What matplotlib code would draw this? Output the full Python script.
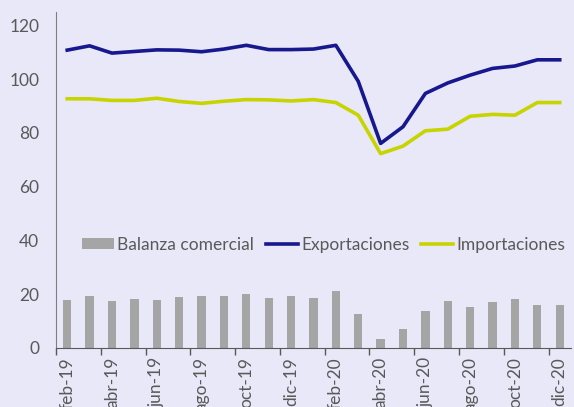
import matplotlib.pyplot as plt
import numpy as np

plt.rcParams['font.family'] = ['Lato', 'DejaVu Sans']

meses = ["feb-19", "mar-19", "abr-19", "may-19", "jun-19", "jul-19", "ago-19", "sep-19",
         "oct-19", "nov-19", "dic-19", "ene-20", "feb-20", "mar-20", "abr-20", "may-20",
         "jun-20", "jul-20", "ago-20", "sep-20", "oct-20", "nov-20", "dic-20"]
balanza = [18.0, 19.5, 17.5, 18.2, 18.0, 19.1, 19.3, 19.5, 20.2, 18.7, 19.3, 18.5,
           21.1, 12.6, 3.3, 7.0, 13.9, 17.4, 15.2, 17.1, 18.1, 16.0, 16.0]
exportaciones = [110.8, 112.4, 109.7, 110.3, 110.9, 110.8, 110.2, 111.2, 112.6, 111.0,
                 111.0, 111.2, 112.6, 99.2, 76.1, 82.3, 94.7, 98.6, 101.5, 104.0, 104.9,
                 107.2, 107.2]
importaciones = [92.7, 92.7, 92.1, 92.1, 92.9, 91.7, 91.0, 91.8, 92.4, 92.3, 91.9, 92.4,
                 91.3, 86.6, 72.3, 75.1, 80.8, 81.4, 86.2, 86.9, 86.6, 91.3, 91.3]

bg = "#E8E8F8"
gris = "#595959"

fig = plt.figure(figsize=(5.74, 4.07), dpi=100, facecolor=bg)
ax = fig.add_axes([0.0976, 0.145, 0.897, 0.8256], facecolor=bg)

x = np.arange(len(meses))
barras = ax.bar(x, balanza, width=0.37, color="#A5A5A5", label="Balanza comercial", zorder=2)
l_exp, = ax.plot(x, exportaciones, color="#17188E", lw=2.6, label="Exportaciones", zorder=3)
l_imp, = ax.plot(x, importaciones, color="#C8D400", lw=2.6, label="Importaciones", zorder=3)

ax.set_xlim(-0.5, len(meses) - 0.5)
ax.set_ylim(0, 125)
ax.set_yticks(range(0, 121, 20))
ax.tick_params(axis='y', length=0, pad=12, labelsize=12.5, labelcolor=gris)

# etiquetas en el centro de cada categoría, marcas entre categorías
ax.set_xticks(x[::2])
ax.set_xticklabels(meses[::2], rotation=90, va='top', ha='center')
ax.tick_params(axis='x', which='major', length=0, pad=6.5, labelsize=12.5, labelcolor=gris)
ax.set_xticks(np.arange(-0.5, len(meses) - 1, 2), minor=True)
ax.tick_params(axis='x', which='minor', length=5, width=1, color="#595959", direction='out')

for s in ["top", "right"]:
    ax.spines[s].set_visible(False)
ax.spines["left"].set_color("#7F7F7F")
ax.spines["bottom"].set_color("#595959")

ax.legend([barras, l_exp, l_imp], ["Balanza comercial", "Exportaciones", "Importaciones"],
          loc='center left', bbox_to_anchor=(0.05, 0.307), ncol=3, frameon=False,
          fontsize=12.5, labelcolor=gris, handlelength=1.85, handleheight=0.55,
          handletextpad=0.2, columnspacing=0.65, borderaxespad=0, borderpad=0)

fig.savefig("out.png", dpi=100, facecolor=bg)
